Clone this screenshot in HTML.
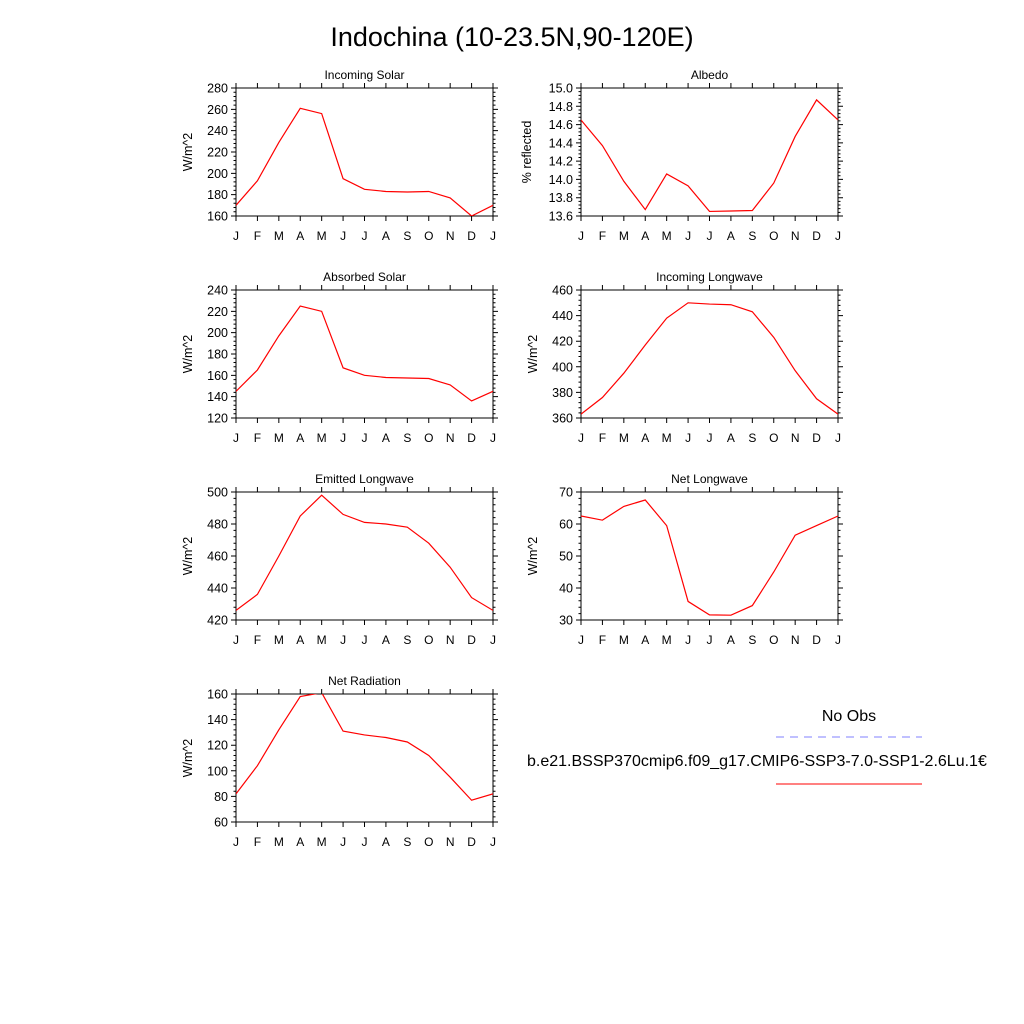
<!DOCTYPE html>
<html><head><meta charset="utf-8"><style>body{margin:0;background:#fff}svg{display:block}text{font-family:"Liberation Sans",sans-serif}</style></head>
<body>
<svg id="c" width="1024" height="1024">
<text x="512" y="46" text-anchor="middle" font-size="27">Indochina (10-23.5N,90-120E)</text>
<g>
<text x="849" y="721" text-anchor="middle" font-size="16">No Obs</text>
<line x1="776" y1="737" x2="922" y2="737" stroke="#8080ff" stroke-width="1" stroke-dasharray="8,6"/>
<text x="527" y="766" font-size="16">b.e21.BSSP370cmip6.f09_g17.CMIP6-SSP3-7.0-SSP1-2.6Lu.1€</text>
<line x1="776" y1="784" x2="922" y2="784" stroke="#ff0000" stroke-width="1"/>
</g>
</svg>
<script>
const months=["J","F","M","A","M","J","J","A","S","O","N","D","J"];
const incomingSolar=[170,193,229,261,256,195,185,183,182.5,183,177,160,170];
const albedo=[14.65,14.37,13.98,13.67,14.06,13.93,13.65,13.655,13.66,13.96,14.47,14.87,14.65];
const absorbedSolar=[145,165,197,225,220,167,160,158,157.5,157,151,136,145];
const incomingLW=[363,376,395,417,438,450,449,448.5,443,423,397,375,363];
const emittedLW=[426,436,460,485,498,486,481,480,478,468,453,434,426];
const netLW=[62.5,61.2,65.5,67.5,59.5,35.8,31.6,31.5,34.5,45,56.5,59.5,62.5];
const netRad=[82,104,132,158,161,131,128,126,122.5,112,95,77,82];
const panels=[
{t:"Incoming Solar",y:"W/m^2",d:incomingSolar,min:160,max:280,step:20,dec:0,x0:236,y0:88,n:"incoming-solar"},
{t:"Albedo",y:"% reflected",d:albedo,min:13.6,max:15.0,step:0.2,dec:1,x0:581,y0:88,n:"albedo"},
{t:"Absorbed Solar",y:"W/m^2",d:absorbedSolar,min:120,max:240,step:20,dec:0,x0:236,y0:290,n:"absorbed-solar"},
{t:"Incoming Longwave",y:"W/m^2",d:incomingLW,min:360,max:460,step:20,dec:0,x0:581,y0:290,n:"incoming-longwave"},
{t:"Emitted Longwave",y:"W/m^2",d:emittedLW,min:420,max:500,step:20,dec:0,x0:236,y0:492,n:"emitted-longwave"},
{t:"Net Longwave",y:"W/m^2",d:netLW,min:30,max:70,step:10,dec:0,x0:581,y0:492,n:"net-longwave"},
{t:"Net Radiation",y:"W/m^2",d:netRad,min:60,max:160,step:20,dec:0,x0:236,y0:694,n:"net-radiation"}];
const W=257,H=128,NS="http://www.w3.org/2000/svg",svg=document.getElementById("c");
function mk(tag,at,par){const e=document.createElementNS(NS,tag);for(const k in at)e.setAttribute(k,at[k]);par.appendChild(e);return e;}
panels.forEach(p=>{
const g=mk("g",{},svg);


const xs=i=>p.x0+i*W/12, ys=v=>p.y0+H-(v-p.min)/(p.max-p.min)*H;
let tk="";
for(let i=0;i<13;i++){const x=xs(i);tk+=`M${x},${p.y0+H}v5M${x},${p.y0}v-5`;}
const nsteps=Math.round((p.max-p.min)/p.step);
for(let j=0;j<=nsteps*5;j++){const y=p.y0+H-j*H/(nsteps*5);const L=j%5==0?5:2.5;tk+=`M${p.x0},${y}h${-L}M${p.x0+W},${y}h${L}`;}
const t=mk("path",{d:tk,stroke:"#000","stroke-width":1,fill:"none"},g);


const f=mk("rect",{x:p.x0,y:p.y0,width:W,height:H,fill:"none",stroke:"#000","stroke-width":1},g);


for(let i=0;i<13;i++){const e=mk("text",{x:xs(i),y:p.y0+H+24,"text-anchor":"middle","font-size":12},g);e.textContent=months[i];

}
for(let j=0;j<=nsteps;j++){const v=p.min+j*p.step;const e=mk("text",{x:p.x0-8,y:ys(v)+4.5,"text-anchor":"end","font-size":12.5},g);e.textContent=v.toFixed(p.dec);

}
const ti=mk("text",{x:p.x0+W/2,y:p.y0-9,"text-anchor":"middle","font-size":12},g);ti.textContent=p.t;


const yx=p.x0-(p.dec?50:44),yy=p.y0+H/2;
const yl=mk("text",{x:yx,y:yy,"text-anchor":"middle","font-size":12.5,transform:`rotate(-90 ${yx} ${yy})`},g);yl.textContent=p.y;


const cp=mk("clipPath",{id:"cp"+p.n},g);mk("rect",{x:p.x0,y:p.y0,width:W,height:H},cp);
const ln=mk("polyline",{points:p.d.map((v,i)=>xs(i)+","+ys(v)).join(" "),fill:"none",stroke:"#ff0000","stroke-width":1.2,"clip-path":`url(#cp${p.n})`},g);


});
</script>
</body></html>
